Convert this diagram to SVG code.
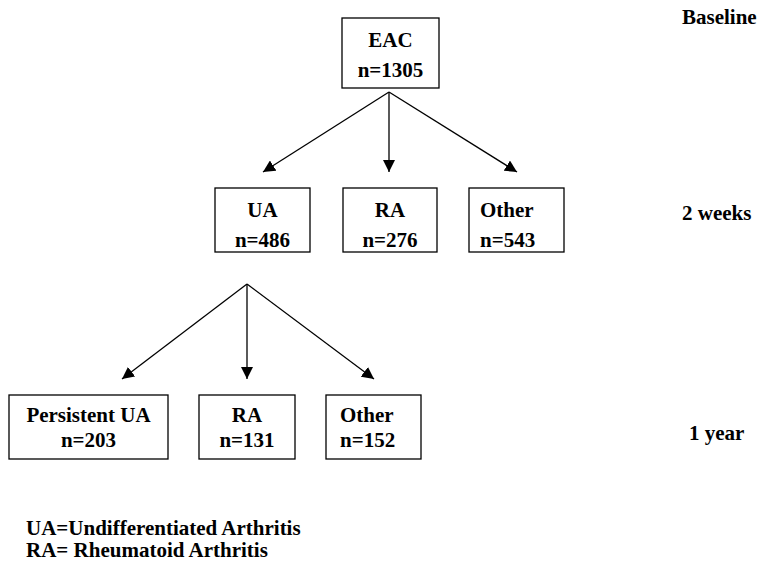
<svg xmlns="http://www.w3.org/2000/svg" width="759" height="564" viewBox="0 0 759 564">
<style>
.box{fill:#fff;stroke:#000;stroke-width:1.3}
text{font-family:'Liberation Serif','Times New Roman',Times,'DejaVu Serif',serif;font-weight:700;font-size:21px;fill:#000}
.c{text-anchor:middle}
.conn line{stroke:#000;stroke-width:1.3;marker-end:url(#ah)}
</style>
<defs>
<marker id="ah" markerUnits="userSpaceOnUse" markerWidth="12" markerHeight="12" viewBox="0 0 12 12" refX="12" refY="6" orient="auto">
<path d="M0,0 L12,6 L0,12 Z" fill="#000"/>
</marker>
</defs>
<rect width="759" height="564" fill="#fff"/>
<g id="connectors" class="conn">
<line x1="389" y1="92" x2="263" y2="172"/>
<line x1="389" y1="92" x2="389" y2="172"/>
<line x1="389" y1="92" x2="517" y2="172"/>
<line x1="247" y1="284" x2="122" y2="379"/>
<line x1="247" y1="284" x2="247" y2="379"/>
<line x1="247" y1="284" x2="374" y2="379"/>
</g>
<g id="eac"><rect class="box" x="342" y="18" width="97" height="70"/><text class="c" x="390.5" y="47">EAC</text><text class="c" x="390.5" y="77">n=1305</text></g>
<g id="ua"><rect class="box" x="215" y="188" width="95" height="64"/><text class="c" x="262.5" y="217">UA</text><text class="c" x="262.5" y="247">n=486</text></g>
<g id="ra1"><rect class="box" x="343" y="188" width="94" height="64"/><text class="c" x="390" y="217">RA</text><text class="c" x="390" y="247">n=276</text></g>
<g id="other1"><rect class="box" x="469" y="188" width="95" height="64"/><text x="480" y="217">Other</text><text x="480" y="247">n=543</text></g>
<g id="persistent"><rect class="box" x="9" y="395" width="159" height="64"/><text class="c" x="88.5" y="422">Persistent UA</text><text class="c" x="88.5" y="447">n=203</text></g>
<g id="ra2"><rect class="box" x="199" y="395" width="96" height="64"/><text class="c" x="247" y="422">RA</text><text class="c" x="247" y="447">n=131</text></g>
<g id="other2"><rect class="box" x="326" y="395" width="95" height="64"/><text x="340" y="422">Other</text><text x="340" y="447">n=152</text></g>
<g id="labels">
<text x="682" y="24">Baseline</text>
<text x="682" y="220">2 weeks</text>
<text x="689" y="440">1 year</text>
<text x="26" y="535">UA=Undifferentiated Arthritis</text>
<text x="26" y="557">RA= Rheumatoid Arthritis</text>
</g>
</svg>
